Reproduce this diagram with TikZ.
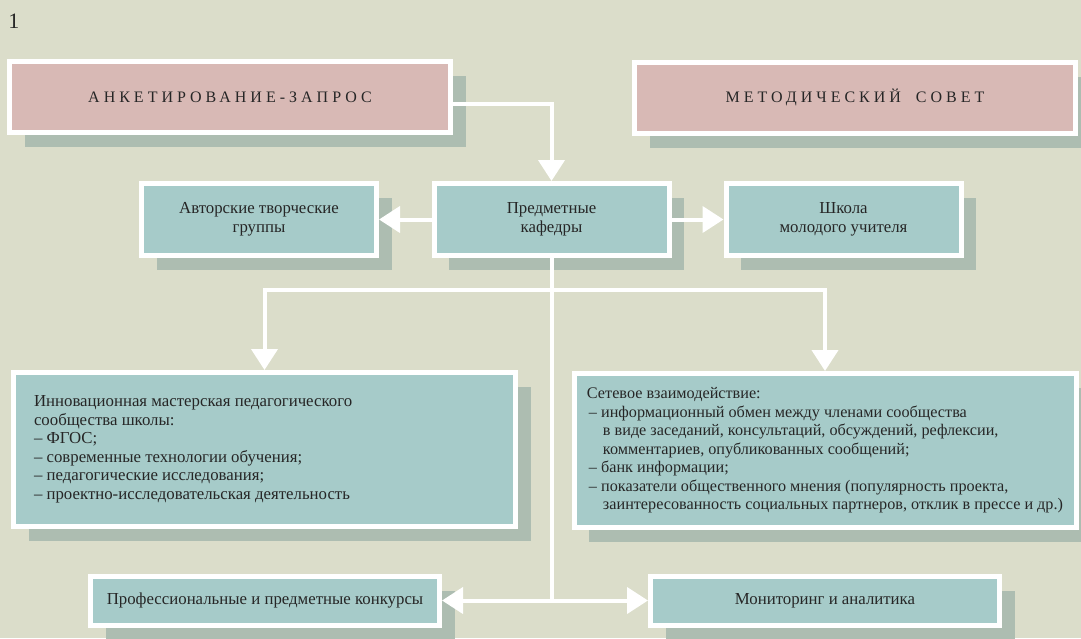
\documentclass[tikz,border=0pt]{standalone}
\usepackage{fontspec}
\setmainfont{Liberation Serif}
\usetikzlibrary{arrows.meta,shadows}

\definecolor{fon}{HTML}{DBDDCA}
\definecolor{rozovy}{HTML}{D8B9B5}
\definecolor{biryuza}{HTML}{A6CBC9}
\definecolor{ten}{HTML}{ADBDB1}
\definecolor{tekst}{HTML}{262626}

\begin{document}
\begin{tikzpicture}[x=1pt,y=-1pt,
	blok/.style={draw=white,line width=5pt,fill=biryuza,text=tekst,
		font=\fontsize{16.8}{19}\selectfont,align=center,
		drop shadow={shadow xshift=15pt,shadow yshift=-14.5pt,fill=ten,opacity=1}},
	zagolovok/.style={blok,fill=rozovy,minimum width=441pt,minimum height=71pt,
		font=\fontsize{16}{18}\selectfont\addfontfeature{LetterSpace=25}},
	malyj/.style={blok,minimum width=235pt,minimum height=72pt},
	bolshoj/.style={blok,minimum width=502pt,minimum height=154pt,align=left,
		font=\fontsize{16.8}{18.5}\selectfont,
		execute at begin node={\spaceskip=0pt\xspaceskip=0pt}},
	nizhnij/.style={blok,minimum width=349pt,minimum height=49pt},
	strelka/.style={draw=white,line width=4pt,-{Triangle[width=26pt,length=21pt]}}]
	\fill[fon] (0,0) rectangle (1081,638);
	\useasboundingbox (0,0) rectangle (1081,638);
	\node[text=tekst,font=\fontsize{22}{22}\selectfont] (nomer) at (14,21) {1};
	% verkhnij rjad
	\node[zagolovok] (anketa) at (230,97) {АНКЕТИРОВАНИЕ-ЗАПРОС};
	\node[zagolovok] (sovet) at (855,97.5) {МЕТОДИЧЕСКИЙ\hspace{7pt} СОВЕТ};
	% kafedry i gruppy
	\node[malyj] (avtory) at (259,219.5) {Авторские творческие\\группы};
	\node[malyj] (kafedry) at (551.5,219.5) {Предметные\\кафедры};
	\node[malyj] (shkola) at (843.5,219.5) {Школа\\молодого учителя};
	% masterskaja i set
	\node[bolshoj,text width=461pt] (masterskaja) at (264.5,449.5) {Инновационная мастерская педагогического\\
		сообщества школы:\\
		– ФГОС;\\
		– современные технологии обучения;\\
		– педагогические исследования;\\
		– проектно-исследовательская деятельность};
	\node[bolshoj,font=\fontsize{16.2}{18.5}\selectfont] (set) at (825,450.5) {Сетевое взаимодействие:\\
		\hspace*{2pt}– информационный обмен между членами сообщества\\
		\hspace*{16pt}в виде заседаний, консультаций, обсуждений, рефлексии,\\
		\hspace*{16pt}комментариев, опубликованных сообщений;\\
		\hspace*{2pt}– банк информации;\\
		\hspace*{2pt}– показатели общественного мнения (популярность проекта,\\
		\hspace*{16pt}заинтересованность социальных партнеров, отклик в прессе и др.)};
	% nizhnij rjad
	\node[nizhnij] (konkursy) at (265,600.5) {Профессиональные и предметные конкурсы};
	\node[nizhnij] (monitoring) at (825,600.5) {Мониторинг и аналитика};
	% strelki
	\draw[strelka] ([shift={(0,7)}]anketa.east) -| (kafedry.north);
	\draw[strelka] (kafedry.west) -- (avtory.east);
	\draw[strelka] (kafedry.east) -- (shkola.west);
	\coordinate (razvilka) at (kafedry.south |- 0,290);
	\coordinate (niz) at (kafedry.south |- konkursy.east);
	\draw[draw=white,line width=4pt] (kafedry.south) -- (niz);
	\draw[strelka] (razvilka) -| (masterskaja.north);
	\draw[strelka] (razvilka) -| (set.north);
	\draw[strelka] (niz) -- (konkursy.east);
	\draw[strelka] (niz) -- (monitoring.west);
\end{tikzpicture}
\end{document}
